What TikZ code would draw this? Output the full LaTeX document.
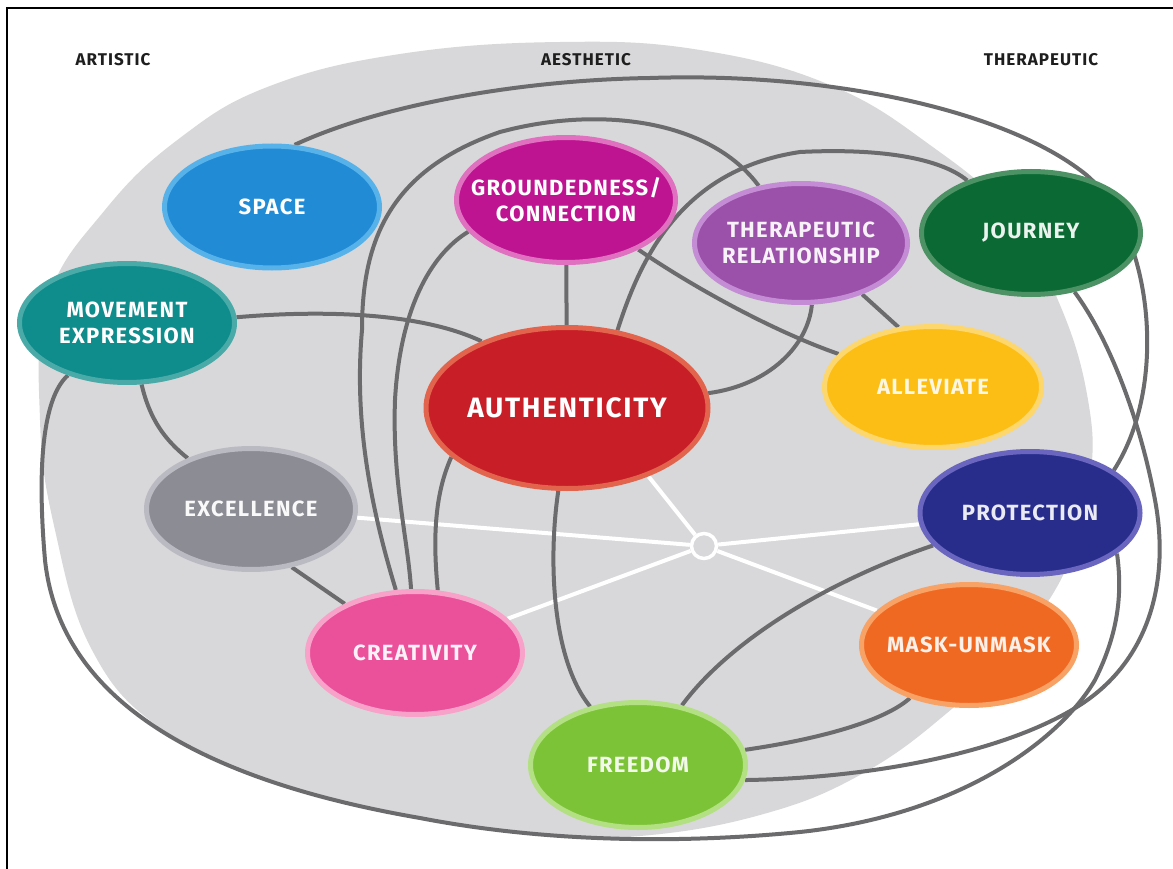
\documentclass[tikz,border=0pt]{standalone}
\usepackage{fontspec}
\setmainfont{Fira Sans}
\newfontfamily\labfont[LetterSpace=6]{Fira Sans}
\usetikzlibrary{shapes.geometric}
\pgfdeclarelayer{bg}
\pgfsetlayers{bg,main}
\definecolor{bggray}{HTML}{D8D8DA}
\definecolor{linkgray}{HTML}{6B6B6E}
\definecolor{headc}{HTML}{1E1E1E}
\definecolor{cSpace}{HTML}{218BD6}\definecolor{bSpace}{HTML}{58B2EA}
\definecolor{cGround}{HTML}{BE1491}\definecolor{bGround}{HTML}{E070C0}
\definecolor{cTher}{HTML}{9B50AA}\definecolor{bTher}{HTML}{C48CD4}
\definecolor{cJour}{HTML}{0B6A33}\definecolor{bJour}{HTML}{4C9264}
\definecolor{cMove}{HTML}{0F8C8C}\definecolor{bMove}{HTML}{4AAAA8}
\definecolor{cAuth}{HTML}{C81E28}\definecolor{bAuth}{HTML}{E2644C}
\definecolor{cAllev}{HTML}{FCBE14}\definecolor{bAllev}{HTML}{FDD66C}
\definecolor{cExc}{HTML}{8C8C94}\definecolor{bExc}{HTML}{BABAC2}
\definecolor{cProt}{HTML}{282D8C}\definecolor{bProt}{HTML}{6A66C0}
\definecolor{cCreat}{HTML}{EB509B}\definecolor{bCreat}{HTML}{F8A2CA}
\definecolor{cMask}{HTML}{F06923}\definecolor{bMask}{HTML}{F8A266}
\definecolor{cFree}{HTML}{7DC337}\definecolor{bFree}{HTML}{B2E082}
\begin{document}
\begin{tikzpicture}[x=1pt,y=-1pt,
  bubble/.style={ellipse, inner sep=0pt, line width=5pt},
  lab/.style={text=white, font=\labfont\bfseries\fontsize{22}{26}\selectfont, align=center, inner sep=0pt},
  biglab/.style={lab, font=\labfont\bfseries\fontsize{28}{30}\selectfont},
  link/.style={draw=linkgray, line width=4pt},
  spoke/.style={draw=white, line width=4pt},
  head/.style={text=headc, font=\labfont\bfseries\fontsize{17}{19}\selectfont, inner sep=0pt}]
\useasboundingbox (0,0) rectangle (1173,869);

% nodes
\node[bubble, fill=cSpace, draw=bSpace, minimum width=215pt, minimum height=122pt, label={[lab]center:SPACE}] (space) at (272,207) {};
\node[bubble, fill=cGround, draw=bGround, minimum width=219pt, minimum height=125pt, label={[lab]center:{GROUNDEDNESS/\\CONNECTION}}] (gc) at (566,200) {};
\node[bubble, fill=cTher, draw=bTher, minimum width=213pt, minimum height=119pt, label={[lab, text=white!92!cTher]center:{THERAPEUTIC\\RELATIONSHIP}}] (tr) at (801,243) {};
\node[bubble, fill=cJour, draw=bJour, minimum width=219pt, minimum height=123pt, label={[lab, text=white!92!cJour]center:JOURNEY}] (jour) at (1031,233) {};
\node[bubble, fill=cMove, draw=bMove, minimum width=215pt, minimum height=119pt, label={[lab]center:{MOVEMENT\\EXPRESSION}}] (me) at (127,323) {};
\node[bubble, fill=cAuth, draw=bAuth, minimum width=282pt, minimum height=161pt, label={[biglab]center:AUTHENTICITY}] (auth) at (567,408) {};
\node[bubble, fill=cAllev, draw=bAllev, minimum width=217pt, minimum height=121pt, label={[lab, text=white!88!cAllev]center:ALLEVIATE}] (allev) at (933,387) {};
\node[bubble, fill=cExc, draw=bExc, minimum width=209pt, minimum height=121pt, label={[lab, text=white!95!cExc]center:EXCELLENCE}] (exc) at (251,509) {};
\node[bubble, fill=cProt, draw=bProt, minimum width=220pt, minimum height=123pt, label={[lab, text=white!90!cProt]center:PROTECTION}] (prot) at (1030,513) {};
\node[bubble, fill=cCreat, draw=bCreat, minimum width=215pt, minimum height=123pt, label={[lab, text=white!92!cCreat]center:CREATIVITY}] (creat) at (415,653) {};
\node[bubble, fill=cMask, draw=bMask, minimum width=215pt, minimum height=121pt, label={[lab, text=white!90!cMask]center:MASK-UNMASK}] (mask) at (969,645) {};
\node[bubble, fill=cFree, draw=bFree, minimum width=215pt, minimum height=125pt, label={[lab, text=white!90!cFree]center:FREEDOM}] (free) at (638,765) {};
\node[circle, draw=white, line width=3.5pt, fill=bggray, minimum size=25pt, inner sep=0pt] (hub) at (704,546) {};

% headings
\node[head] (h1) at (113,60) {ARTISTIC};
\node[head] (h2) at (586,60) {AESTHETIC};
\node[head] (h3) at (1041,60) {THERAPEUTIC};

\begin{pgfonlayer}{bg}
\fill[white] (0,0) rectangle (1173,869);
\draw[black, line width=1.3pt] (7,869) -- (7,8) -- (1173,8);
\fill[bggray] plot[smooth cycle, tension=0.7] coordinates {
 (560,42) (700,50) (830,85) (930,145) (1010,215) (1060,305) (1088,400) (1090,480)
 (1068,565) (1015,645) (947,713) (860,775) (760,815) (640,836) (540,834) (420,818)
 (268,780) (160,728) (92,650) (55,530) (40,420) (48,300) (105,210) (180,138) (270,86) (400,54)};

% white spokes
\draw[spoke] (hub) -- (auth.-40);
\draw[spoke] (hub) -- (exc);
\draw[spoke] (hub) -- (creat);
\draw[spoke] (hub) -- (prot);
\draw[spoke] (hub) -- (mask);

% gray links
\draw[link] (space.70) .. controls (380,105) and (520,80) .. (650,78)
   .. controls (830,72) and (1000,110) .. (1080,170)
   .. controls (1150,220) and (1172,380) .. (prot.27);
\draw[link] (creat) .. controls (370,505) and (354,420) .. (362,330)
   .. controls (362,240) and (390,170) .. (500,132)
   .. controls (600,105) and (710,120) .. (tr);
\draw[link] (gc.198) .. controls (430,255) and (400,310) .. (395,400)
   .. controls (392,480) and (408,540) .. (creat);
\draw[link] (auth.203) .. controls (432,500) and (434,550) .. (creat.70);
\draw[link] (me.3) .. controls (320,310) and (420,312) .. (auth.142);
\draw[link] (me) .. controls (150,420) and (165,440) .. (exc);
\draw[link] (me) .. controls (40,400) and (38,480) .. (45,560)
   .. controls (60,700) and (200,780) .. (420,818)
   .. controls (560,845) and (700,842) .. (800,832)
   .. controls (960,815) and (1060,740) .. (1095,680)
   .. controls (1120,630) and (1122,590) .. (prot.-25);
\draw[link] (gc) -- (auth);
\draw[link] (gc) .. controls (690,285) and (770,330) .. (allev);
\draw[link] (tr.-40) -- (allev.120);
\draw[link] (tr.-80) .. controls (808,345) and (770,385) .. (auth.6);
\draw[link] (auth.57) .. controls (640,260) and (680,170) .. (800,152)
   .. controls (880,148) and (940,158) .. (jour);
\draw[link] (auth.-96) .. controls (548,560) and (552,660) .. (free);
\draw[link] (prot) .. controls (830,580) and (730,640) .. (free);
\draw[link] (free) .. controls (800,742) and (880,725) .. (mask);
\draw[link] (free.-8) .. controls (880,778) and (1010,750) .. (1080,705)
   .. controls (1150,660) and (1170,580) .. (1155,500)
   .. controls (1140,420) and (1110,340) .. (jour);
\draw[link] (exc.-55) -- (creat.145);
\end{pgfonlayer}
\end{tikzpicture}
\end{document}
